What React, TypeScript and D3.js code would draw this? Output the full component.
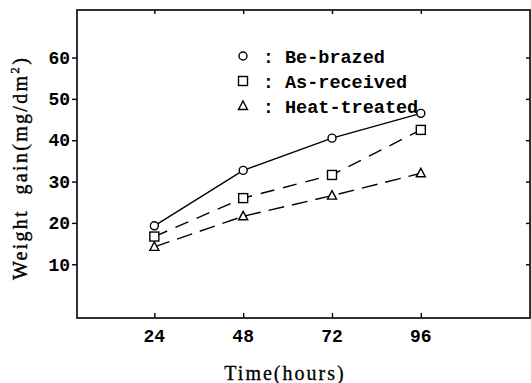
import React, { useRef, useEffect } from 'react';
import * as d3 from 'd3';

const hours = [24, 48, 72, 96];
const beBrazed = [19.3, 32.7, 40.5, 46.5];
const asReceived = [16.7, 26.0, 31.6, 42.5];
const heatTreated = [14.2, 21.6, 26.6, 32.0];
const yTicks = [10, 20, 30, 40, 50, 60];
const seriesNames = ['Be-brazed', 'As-received', 'Heat-treated'];

export default function App() {
  const ref = useRef<SVGSVGElement>(null);

  useEffect(() => {
    const svg = d3.select(ref.current);
    svg.selectAll('*').remove();

    const left = 77, right = 530, top = 10, bottom = 318;
    const x = d3.scaleLinear().domain([3.1, 125.5]).range([left, right]);
    const y = d3.scaleLinear().domain([-3.0, 71.5]).range([bottom, top]);
    const mono = 'Liberation Mono, Courier New, monospace';
    const serif = 'Liberation Serif, DejaVu Serif, serif';

    // frame
    svg.append('rect')
      .attr('x', left).attr('y', top)
      .attr('width', right - left).attr('height', bottom - top)
      .attr('fill', 'none').attr('stroke', '#000').attr('stroke-width', 1.6);

    // left axis, ticks outward
    const gl = svg.append('g').attr('transform', `translate(${left},0)`)
      .call(d3.axisLeft(y).tickValues(yTicks).tickSize(5).tickPadding(2).tickFormat(d3.format('d')));
    gl.select('.domain').remove();
    gl.selectAll('text').attr('font-family', mono).attr('font-size', 18).attr('font-weight', 'bold').attr('fill', '#000');
    // right ticks inward
    const gr = svg.append('g').attr('transform', `translate(${right},0)`)
      .call(d3.axisLeft(y).tickValues(yTicks).tickSize(4).tickFormat(() => ''));
    gr.select('.domain').remove();
    // bottom ticks inward
    const gb = svg.append('g').attr('transform', `translate(0,${bottom})`)
      .call(d3.axisTop(x).tickValues(hours).tickSize(5).tickFormat(() => ''));
    gb.select('.domain').remove();
    hours.forEach((h) => {
      svg.append('text').attr('x', x(h)).attr('y', bottom + 24)
        .attr('text-anchor', 'middle').attr('font-family', mono)
        .attr('font-size', 18).attr('font-weight', 'bold').text(h);
    });
    // top ticks inward
    const gt = svg.append('g').attr('transform', `translate(0,${top})`)
      .call(d3.axisBottom(x).tickValues(hours).tickSize(4).tickFormat(() => ''));
    gt.select('.domain').remove();
    svg.selectAll('.tick line').attr('stroke', '#000').attr('stroke-width', 1.4);

    const series = [
      { name: seriesNames[0], values: beBrazed, dash: null, shape: 'circle' },
      { name: seriesNames[1], values: asReceived, dash: '14,9', shape: 'square' },
      { name: seriesNames[2], values: heatTreated, dash: '16,8', shape: 'triangle' },
    ];

    const line = d3.line<number>().x((_, i) => x(hours[i])).y((d) => y(d));

    const drawMarker = (g: any, shape: string, cx: number, cy: number) => {
      if (shape === 'circle') {
        g.append('circle').attr('cx', cx).attr('cy', cy).attr('r', 4)
          .attr('fill', '#fff').attr('stroke', '#000').attr('stroke-width', 1.4);
      } else if (shape === 'square') {
        g.append('rect').attr('x', cx - 4.5).attr('y', cy - 4.5).attr('width', 9).attr('height', 9)
          .attr('fill', '#fff').attr('stroke', '#000').attr('stroke-width', 1.4);
      } else {
        g.append('path').attr('d', `M${cx},${cy - 5}L${cx + 4.5},${cy + 3.5}L${cx - 4.5},${cy + 3.5}Z`)
          .attr('fill', '#fff').attr('stroke', '#000').attr('stroke-width', 1.4);
      }
    };

    series.forEach((s) => {
      svg.append('path').datum(s.values).attr('d', line)
        .attr('fill', 'none').attr('stroke', '#000').attr('stroke-width', 1.4)
        .attr('stroke-dasharray', s.dash);
    });
    series.forEach((s) => {
      s.values.forEach((v, i) => drawMarker(svg, s.shape, x(hours[i]), y(v)));
    });

    // legend
    const legendY = [57, 82, 107];
    series.forEach((s, i) => {
      drawMarker(svg, s.shape, 243, legendY[i] - 1);
      svg.append('text').attr('x', 263).attr('y', legendY[i] + 6)
        .attr('font-family', mono).attr('font-size', 18).attr('font-weight', 'bold').text(':');
      svg.append('text').attr('x', 285).attr('y', legendY[i] + 6)
        .attr('font-family', mono).attr('font-size', 18.5).attr('font-weight', 'bold')
        .text(s.name);
    });

    // axis titles
    svg.append('text').attr('x', 285).attr('y', 380).attr('text-anchor', 'middle')
      .attr('font-family', serif).attr('font-size', 20).attr('letter-spacing', 2)
      .attr('stroke', '#000').attr('stroke-width', 0.3).text('Time(hours)');
    const yl = svg.append('text').attr('transform', 'translate(27,168) rotate(-90)')
      .attr('text-anchor', 'middle').attr('font-family', serif).attr('font-size', 20)
      .style('white-space', 'pre')
      .attr('stroke', '#000').attr('stroke-width', 0.4).attr('letter-spacing', 2.3);
    yl.append('tspan').text('Weight  gain(mg/dm');
    yl.append('tspan').attr('dy', -8).attr('font-size', 13).text('2');
    yl.append('tspan').attr('dy', 8).text(')');
  }, []);

  return (
    <svg ref={ref} width={531} height={383}
      style={{ position: 'absolute', left: 0, top: 0, background: '#fff' }} />
  );
}
